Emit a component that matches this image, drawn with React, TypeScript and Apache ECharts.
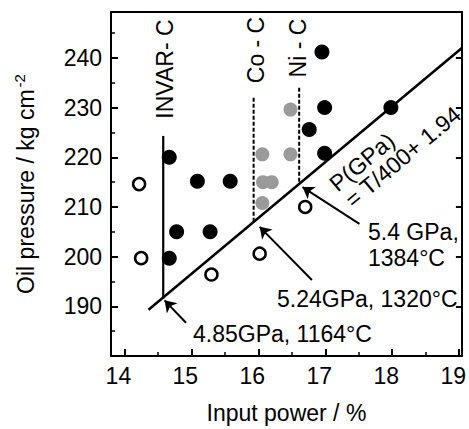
import React, { useEffect, useRef } from "react";
import * as echarts from "echarts";

// Data (input power %, oil pressure kg/cm^2)
const filledPoints: number[][] = [
  [14.67, 220], [15.09, 215.2], [15.58, 215.2], [14.78, 205], [15.28, 205],
  [14.67, 199.7], [16.76, 225.6], [16.95, 241.2], [16.99, 230], [16.99, 220.8],
  [17.98, 230],
];
const openPoints: number[][] = [
  [14.22, 214.6], [14.25, 199.7], [16.02, 200.6], [15.3, 196.4], [16.7, 210],
];
const shadedPoints: number[][] = [
  [16.06, 220.6], [16.07, 215], [16.2, 215], [16.06, 210.8], [16.48, 220.6], [16.48, 229.6],
];
const boundaryLine: number[][] = [[14.36, 189.3], [19.04, 242.0]];
const invarLine: number[][] = [[14.58, 224.3], [14.58, 191.5]];
const coLine: number[][] = [[15.93, 232.0], [15.93, 207.0]];
const niLine: number[][] = [[16.61, 234.0], [16.61, 214.6]];
const arrows: number[][][] = [
  [[14.92, 186.7], [14.6, 191.2]],
  [[16.8, 195.3], [16.02, 206.0]],
  [[17.51, 206.6], [16.66, 214.0]],
];
const xRange = [13.8, 19.04];
const yRange = [180, 249.25];

const FONT = "Liberation Sans, Arial, sans-serif";
const FS = 23;

export default function App() {
  const ref = useRef<HTMLDivElement>(null);
  useEffect(() => {
    if (!ref.current) return;
    const chart = echarts.init(ref.current, null, { renderer: "svg" });
    const lbl = { color: "#000", fontSize: FS, fontFamily: FONT };
    const frameLine = { show: true, lineStyle: { color: "#000", width: 2 } };
    const txt = (x: number, y: number, text: string, rot = 0, align = "center") => ({
      type: "text",
      x,
      y,
      rotation: rot,
      style: {
        text,
        font: `${FS}px ${FONT}`,
        fill: "#000",
        textAlign: align,
        textVerticalAlign: "middle",
      },
    });
    const lineSeries = (data: number[][], width: number, type: any = "solid") => ({
      type: "line",
      data,
      symbol: "none",
      silent: true,
      lineStyle: { color: "#000", width, type },
      z: 1,
    });
    chart.setOption({
      animation: false,
      backgroundColor: "#fff",
      grid: { left: 111, right: 2, top: 12, bottom: 71 },
      xAxis: [
        {
          type: "value",
          min: xRange[0],
          max: xRange[1],
          position: "bottom",
          axisLine: frameLine,
          axisTick: { inside: true, length: 7, lineStyle: { color: "#000", width: 2 } },
          minorTick: { show: true, splitNumber: 2, length: 4, lineStyle: { color: "#000", width: 1.5 } },
          axisLabel: { ...lbl, margin: 8, showMinLabel: false, showMaxLabel: false, padding: [0, 12, 0, 0] },
          splitLine: { show: false },
          name: "Input power / %",
          nameLocation: "middle",
          nameGap: 45,
          nameTextStyle: { ...lbl },
        },
        {
          type: "value",
          min: xRange[0],
          max: xRange[1],
          position: "top",
          axisLine: frameLine,
          axisTick: { show: false },
          axisLabel: { show: false },
          splitLine: { show: false },
        },
      ],
      yAxis: [
        {
          type: "value",
          min: yRange[0],
          max: yRange[1],
          interval: 10,
          position: "left",
          axisLine: frameLine,
          axisTick: { inside: true, length: 7, lineStyle: { color: "#000", width: 2 } },
          minorTick: { show: true, splitNumber: 2, length: 4, lineStyle: { color: "#000", width: 1.5 } },
          axisLabel: { ...lbl, margin: 9, showMinLabel: false, showMaxLabel: false },
          splitLine: { show: false },
          name: "{m|Oil pressure / kg cm}{s|-2}",
          nameLocation: "middle",
          nameGap: 72,
          nameTextStyle: {
            ...lbl,
            rich: {
              m: { fontSize: FS, fontFamily: FONT, color: "#000" },
              s: { fontSize: 15, fontFamily: FONT, color: "#000", padding: [0, 0, 12, 2] },
            },
          },
        },
        {
          type: "value",
          min: yRange[0],
          max: yRange[1],
          interval: 10,
          position: "right",
          axisLine: frameLine,
          axisTick: { inside: true, length: 6, lineStyle: { color: "#000", width: 2 } },
          axisLabel: { show: false },
          splitLine: { show: false },
        },
      ],
      series: [
        lineSeries(boundaryLine, 2.5),
        lineSeries(invarLine, 2.2),
        lineSeries(coLine, 2, [4, 2]),
        lineSeries(niLine, 2, [4, 2]),
        {
          type: "lines",
          coordinateSystem: "cartesian2d",
          data: arrows.map((c) => ({ coords: c })),
          symbol: ["none", "arrow"],
          symbolSize: [0, 11],
          lineStyle: { color: "#000", width: 2, opacity: 1, curveness: 0 },
          silent: true,
          z: 3,
        },
        {
          type: "scatter",
          data: shadedPoints,
          symbol: "circle",
          symbolSize: 14,
          itemStyle: { color: "#9a9a9a", opacity: 1 },
          z: 2,
        },
        {
          type: "scatter",
          data: filledPoints,
          symbol: "circle",
          symbolSize: 15,
          itemStyle: { color: "#000", opacity: 1 },
          z: 4,
        },
        {
          type: "scatter",
          data: openPoints,
          symbol: "circle",
          symbolSize: 12,
          itemStyle: { color: "#fff", borderColor: "#000", borderWidth: 2.5, opacity: 1 },
          z: 4,
        },
      ],
      graphic: [
        txt(165, 69, "INVAR- C", Math.PI / 2),
        txt(256, 50, "Co - C", Math.PI / 2),
        txt(298, 48, "Ni - C", Math.PI / 2),
        txt(362, 162, "P(GPa)", (40 * Math.PI) / 180),
        txt(403, 157, "= T/400+ 1.94", (40 * Math.PI) / 180),
        txt(368, 232, "5.4 GPa,", 0, "left"),
        txt(368, 258, "1384°C", 0, "left"),
        txt(277, 299, "5.24GPa, 1320°C", 0, "left"),
        txt(193, 333.5, "4.85GPa, 1164°C", 0, "left"),
      ],
    });
    return () => chart.dispose();
  }, []);
  return (
    <div
      ref={ref}
      style={{ position: "fixed", left: 0, top: 0, width: 469, height: 429, background: "#fff" }}
    />
  );
}
